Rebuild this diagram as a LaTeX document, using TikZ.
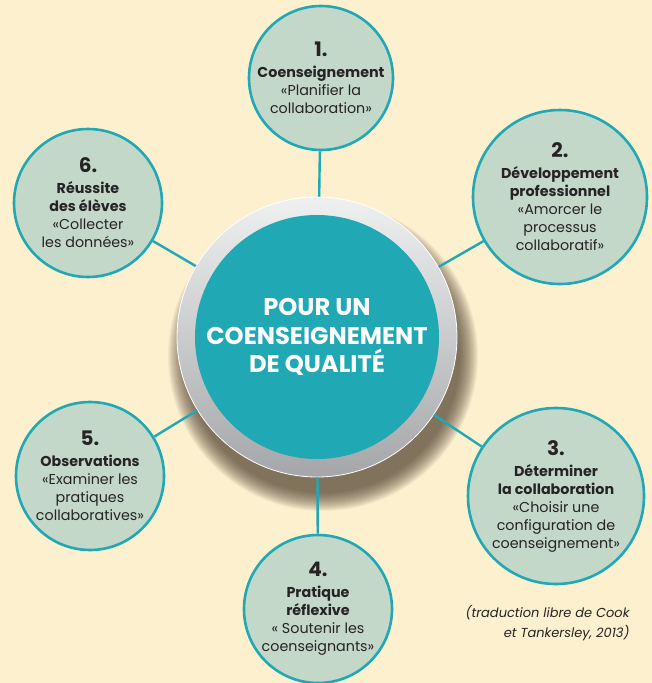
\documentclass[tikz,border=0pt]{standalone}
\usepackage{fontspec}
\setmainfont{Poppins}
\usetikzlibrary{positioning,calc}

\definecolor{cream}{HTML}{FDF0CF}
\definecolor{sage}{HTML}{C4D8C9}
\definecolor{cteal}{HTML}{20A8B4}
\definecolor{ink}{HTML}{262324}
\definecolor{ringtop}{HTML}{EFF0F0}
\definecolor{ringbot}{HTML}{A4A6A9}
\definecolor{shadowbrown}{HTML}{4A3A2A}

\tikzset{
  disc/.style={circle, draw=cteal, line width=2.6pt, fill=sage, inner sep=-20pt,
    align=center, text=ink, font=\fontsize{14.3}{18}\selectfont},
  link/.style={cteal, line width=2.4pt},
}
\newcommand{\stepno}[1]{{\fontsize{20}{22}\selectfont\bfseries #1}\\[3pt]}

\begin{document}
\begin{tikzpicture}[x=1pt, y=-1pt]
\fill[cream] (0,0) rectangle (652,683);
\useasboundingbox (0,0) rectangle (652,683);

\coordinate (mid) at (317,337);
% soft shadow under the centre disc
\foreach \i in {0,...,18}
  \fill[shadowbrown, opacity=0.055] ($(mid)+(6,19)$) circle (137+\i);

\node (ctr) at (mid) [circle, minimum size=280pt, inner sep=0pt,
  top color=ringtop, bottom color=ringbot, draw=white, line width=0.8pt] {};
\node (core) at (mid) [circle, minimum size=244pt, inner sep=0pt, fill=cteal,
  text=white, align=center, font=\fontsize{24.2}{28.5}\selectfont\bfseries]
  {POUR UN\\COENSEIGNEMENT\\DE QUALITÉ};

\node (s1) at (321,78) [disc, minimum size=144pt]
  {\stepno{1.}\textbf{Coenseignement}\\«Planifier la\\collaboration»};
\node (s2) at (560,197) [disc, minimum size=174pt]
  {\stepno{2.}\textbf{Développement}\\\textbf{professionnel}\\«Amorcer le\\processus\\collaboratif»};
\node (s3) at (556,496) [disc, minimum size=176pt]
  {\stepno{3.}\textbf{Déterminer}\\\textbf{la collaboration}\\«Choisir une\\configuration de\\coenseignement»};
\node (s4) at (318,609) [disc, minimum size=148pt]
  {\stepno{4.}\textbf{Pratique}\\\textbf{réflexive}\\« Soutenir les\\coenseignants»};
\node (s5) at (90,476) [disc, minimum size=148pt]
  {\stepno{5.}\textbf{Observations}\\«Examiner les\\pratiques\\collaboratives»};
\node (s6) at (88,203) [disc, minimum size=148pt]
  {\stepno{6.}\textbf{Réussite}\\\textbf{des élèves}\\«Collecter\\les données»};

\draw[link] (ctr) -- (s1);
\draw[link] (ctr) -- (s2);
\draw[link] (ctr) -- (s3);
\draw[link] (ctr) -- (s4);
\draw[link] (ctr) -- (s5);
\draw[link] (ctr) -- (s6);

\node (src) at (633,623) [anchor=east, align=right, text=ink,
  font=\fontsize{13}{20}\selectfont\itshape]
  {(traduction libre de Cook\\et Tankersley, 2013)};
\end{tikzpicture}
\end{document}
